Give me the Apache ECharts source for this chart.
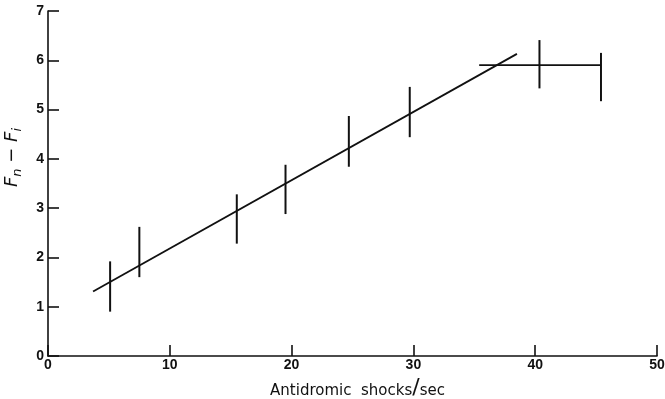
<!DOCTYPE html>
<html><head><meta charset="utf-8">
<script src="https://cdn.jsdelivr.net/npm/echarts@6/dist/echarts.min.js"></script>
<style>html,body{margin:0;padding:0;background:#fff}#c{width:665px;height:399px}</style>
</head><body><div id="c"></div>
<script>
const xTicks = [0, 10, 20, 30, 40, 50];
const yTicks = [0, 1, 2, 3, 4, 5, 6, 7];
const barX = [5.1, 7.5, 15.5, 19.5, 24.7, 29.7, 40.35, 45.4];
const barLow = [0.9, 1.6, 2.28, 2.88, 3.84, 4.44, 5.43, 5.17];
const barHigh = [1.92, 2.62, 3.28, 3.88, 4.87, 5.46, 6.41, 6.15];
const fitX = [3.7, 38.5];
const fitY = [1.31, 6.13];
const plateauX = [35.4, 45.4];
const plateauY = [5.9, 5.9];

const ink = '#111';
const tickFont = { color: ink, fontSize: 14, fontWeight: 'bold', fontFamily: 'Liberation Sans' };
const chart = echarts.init(document.getElementById('c'));
chart.setOption({
  animation: false,
  backgroundColor: '#fff',
  grid: { left: 48, right: 8, top: 11, bottom: 43, containLabel: false, outerBoundsMode: 'none' },
  xAxis: {
    type: 'value', min: xTicks[0], max: xTicks[xTicks.length - 1], interval: 10,
    name: '{t|Antidromic  shocks}{sl|/}{t|sec}', nameLocation: 'middle', nameGap: 19,
    nameTextStyle: {
      padding: [0, 0, 0, 10],
      rich: {
        t: { color: ink, fontSize: 15, fontFamily: 'DejaVu Sans', verticalAlign: 'bottom', lineHeight: 22 },
        sl: { color: ink, fontSize: 22, fontFamily: 'DejaVu Sans', verticalAlign: 'bottom', lineHeight: 22 }
      }
    },
    axisLine: { lineStyle: { color: ink, width: 1.6 } },
    axisTick: { inside: true, length: 11, lineStyle: { color: ink, width: 1.6 } },
    axisLabel: Object.assign({ margin: 2 }, tickFont),
    splitLine: { show: false }
  },
  yAxis: {
    type: 'value', min: yTicks[0], max: yTicks[yTicks.length - 1], interval: 1,
    name: '{a|F}{s|n}{a| − F}{s|i}', nameLocation: 'middle', nameGap: 24, nameRotate: 90,
    nameTextStyle: {
      padding: [0, 0, 0, 52],
      rich: {
        a: { fontSize: 18, fontStyle: 'italic', fontFamily: 'DejaVu Sans', color: ink, verticalAlign: 'middle', lineHeight: 24 },
        s: { fontSize: 13, fontStyle: 'italic', fontFamily: 'DejaVu Sans', color: ink, verticalAlign: 'bottom', lineHeight: 14 }
      }
    },
    axisLine: { show: true, lineStyle: { color: ink, width: 1.6 } },
    axisTick: { show: true, inside: true, length: 11, lineStyle: { color: ink, width: 1.6 } },
    axisLabel: Object.assign({ margin: 4 }, tickFont),
    splitLine: { show: false }
  },
  series: [
    {
      type: 'line', data: fitX.map((x, i) => [x, fitY[i]]), symbol: 'none',
      lineStyle: { color: ink, width: 1.8 }
    },
    {
      type: 'line', data: plateauX.map((x, i) => [x, plateauY[i]]), symbol: 'none',
      lineStyle: { color: ink, width: 1.8 }
    },
    {
      type: 'custom',
      data: barX.map((x, i) => [x, barLow[i], barHigh[i]]),
      renderItem: function (params, api) {
        const p1 = api.coord([api.value(0), api.value(1)]);
        const p2 = api.coord([api.value(0), api.value(2)]);
        return { type: 'line', shape: { x1: p1[0], y1: p1[1], x2: p2[0], y2: p2[1] },
          style: { stroke: ink, lineWidth: 2 } };
      },
      encode: { x: 0, y: [1, 2] }
    }
  ]
});
</script></body></html>
